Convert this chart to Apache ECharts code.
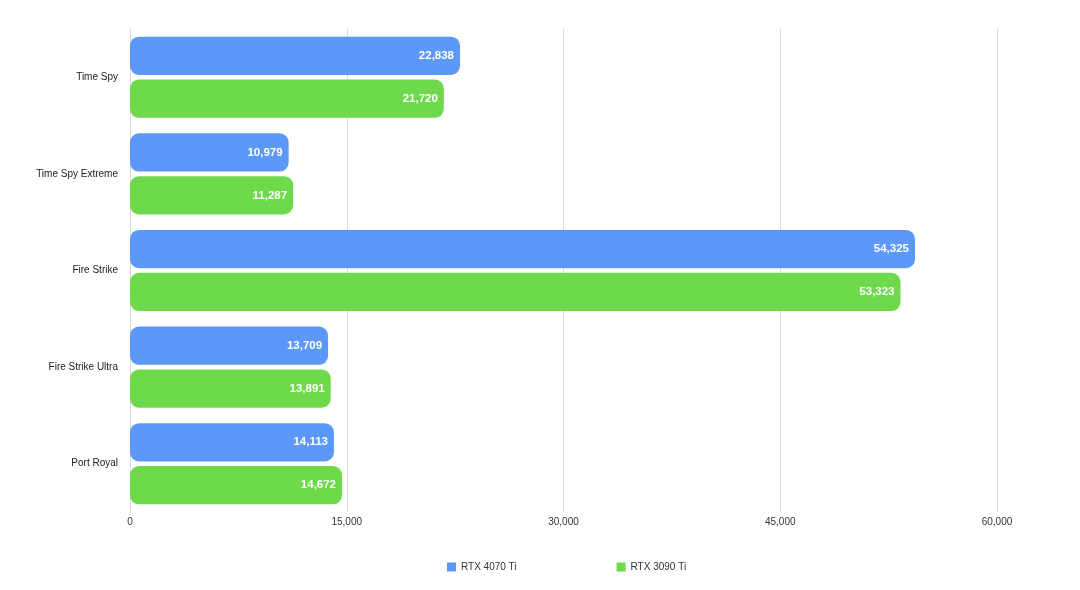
<!DOCTYPE html>
<html><head><meta charset="utf-8">
<script src="https://cdn.jsdelivr.net/npm/echarts@6/dist/echarts.min.js"></script>
<style>html,body{margin:0;padding:0;background:#fff}#c{width:1080px;height:590px}</style>
</head><body><div id="c"></div>
<script>
const categories = ['Time Spy', 'Time Spy Extreme', 'Fire Strike', 'Fire Strike Ultra', 'Port Royal'];
const rtx4070ti = [22838, 10979, 54325, 13709, 14113];
const rtx3090ti = [21720, 11287, 53323, 13891, 14672];
const seriesNames = ['RTX 4070 Ti', 'RTX 3090 Ti'];

const font = 'Helvetica, "Liberation Sans", Arial, sans-serif';
const chart = echarts.init(document.getElementById('c'));
const lbl = {
  show: true, position: 'insideRight', distance: 6, color: '#fff',
  fontFamily: font, fontSize: 11.5, fontWeight: 'bold',
  formatter: p => p.value.toLocaleString('en-US')
};
chart.setOption({
  animation: false,
  textStyle: { fontFamily: font },
  grid: { left: 130, right: 83, top: 29, bottom: 78 },
  legend: {
    top: 557, left: 442, itemWidth: 9, itemHeight: 9, itemGap: 100,
    icon: 'rect', textStyle: { fontSize: 10, color: '#333', fontFamily: font },
    data: seriesNames
  },
  xAxis: {
    type: 'value', min: 0, max: 60000, interval: 15000,
    axisLine: { show: false }, axisTick: { show: false },
    splitLine: { lineStyle: { color: '#d9d9d9', width: 1 } },
    axisLabel: { fontSize: 10, color: '#333', margin: 5,
      formatter: v => v.toLocaleString('en-US') }
  },
  yAxis: {
    type: 'category', data: categories, inverse: true,
    axisLine: { show: true, lineStyle: { color: '#d9d9d9' } }, axisTick: { show: false },
    axisLabel: { fontSize: 10, color: '#222', margin: 12 }
  },
  series: [
    { name: seriesNames[0], type: 'bar', data: rtx4070ti, barGap: '12%', barCategoryGap: '16%',
      itemStyle: { color: '#5B98F7', borderRadius: 9 }, label: lbl },
    { name: seriesNames[1], type: 'bar', data: rtx3090ti,
      itemStyle: { color: '#6DD94B', borderRadius: 9 }, label: lbl }
  ]
});
</script></body></html>
